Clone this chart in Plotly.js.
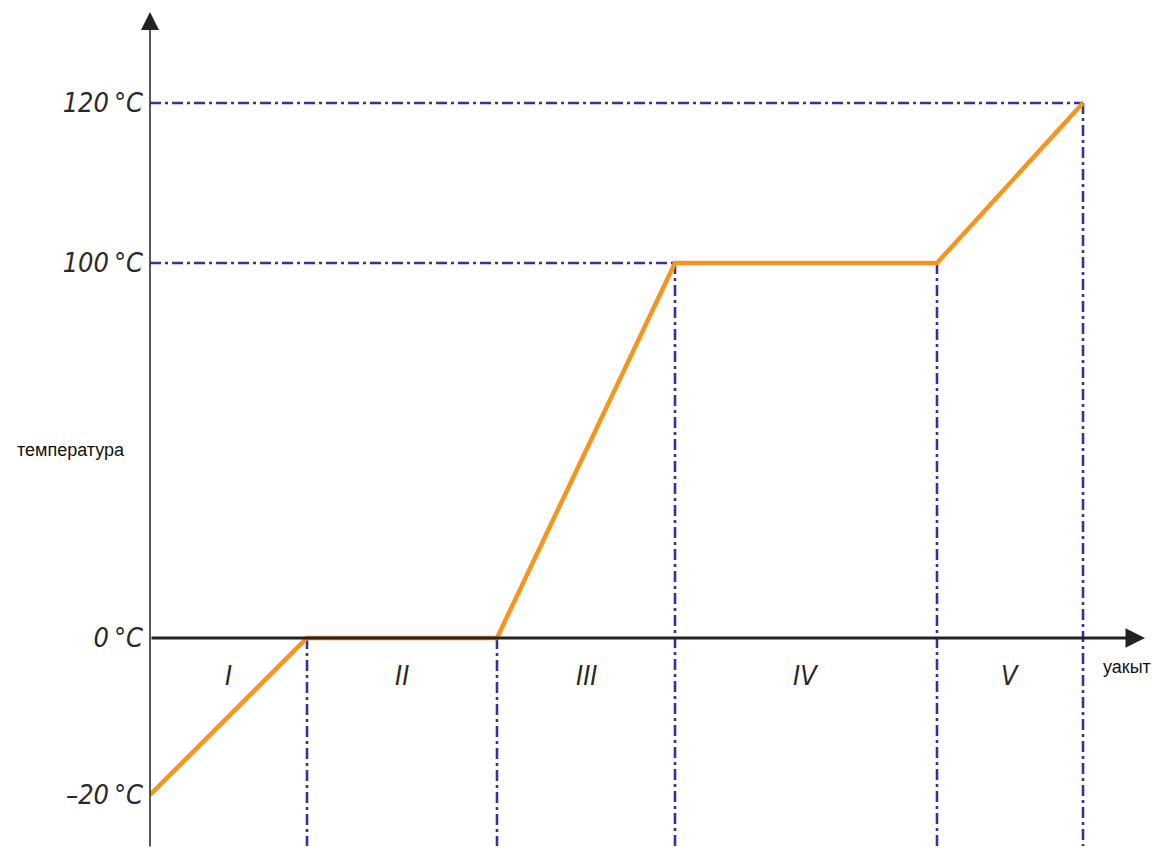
<!DOCTYPE html>
<html>
<head>
<meta charset="utf-8">
<script src="https://cdn.plot.ly/plotly-3.0.1.min.js"></script>
<style>html,body{margin:0;padding:0;background:#fff;}#chart{width:1157px;height:864px;}</style>
</head>
<body>
<div id="chart"></div>
<script>
// ---- data ----
const times = [0, 15.7, 34.7, 52.5, 78.7, 93.3];          // time (arbitrary units)
const temps = [-20, 0, 0, 100, 100, 120];                 // temperature, °C
const tickTemps = [-20, 0, 100, 120];
const tickLabels = ['–20\u2009°C', '0\u2009°C', '100\u2009°C', '120\u2009°C'];
const stageLabels = ['I', 'II', 'III', 'IV', 'V'];
const yLabel = 'температура';
const xLabel = 'уакыт';

// ---- piecewise axis scale (the drawing compresses 0..100 °C) ----
function u(T) {
  if (T <= 0) return T * 7.85;
  if (T <= 100) return T * 3.75;
  return 375 + (T - 100) * 8;
}

const orange = '#F7941E';
const navy = '#343399';
const dashPat = '11px,4px,3px,4px';
const tickFont = {family: '"DejaVu Sans Condensed", "Liberation Sans Narrow", "Liberation Sans", sans-serif',
  size: 27, color: '#2a2a2a', style: 'italic'};
const textFont = {family: '"Liberation Sans", Arial, sans-serif', size: 18, color: '#111'};

const traces = [];
// horizontal guide lines at 100 and 120 °C
[100, 120].forEach(T => {
  const i = temps.indexOf(T);
  traces.push({x: [0, times[i]], y: [u(T), u(T)], mode: 'lines', hoverinfo: 'skip',
    line: {color: navy, width: 2.6, dash: dashPat}});
});
// vertical guide lines at each stage boundary
for (let i = 1; i < times.length; i++) {
  traces.push({x: [times[i], times[i]], y: [u(temps[i]), -208], mode: 'lines', hoverinfo: 'skip',
    line: {color: navy, width: 2.6, dash: dashPat}});
}
// heating curve
traces.push({x: times, y: temps.map(u), mode: 'lines', hoverinfo: 'skip',
  line: {color: orange, width: 4.5}});

const annotations = [];
// y axis arrow
annotations.push({x: 0, y: 626, ax: 0, ay: -210, xref: 'x', yref: 'y', axref: 'x', ayref: 'y',
  text: '', showarrow: true, arrowhead: 2, arrowsize: 2.4, arrowwidth: 1.5, arrowcolor: '#222'});
// x axis arrow
annotations.push({x: 99.5, y: 0, ax: 0, ay: 0, xref: 'x', yref: 'y', axref: 'x', ayref: 'y',
  text: '', showarrow: true, arrowhead: 2, arrowsize: 1.3, arrowwidth: 3, arrowcolor: '#222'});
// stage labels, centred in each stage
for (let i = 0; i < stageLabels.length; i++) {
  annotations.push({x: (times[i] + times[i + 1]) / 2, y: -37, xref: 'x', yref: 'y', text: stageLabels[i],
    showarrow: false, font: tickFont, xanchor: 'center', yanchor: 'middle'});
}
annotations.push({x: (71 - 150) / 1000, y: (864 - 450) / 864, xref: 'paper', yref: 'paper',
  text: yLabel, showarrow: false, xanchor: 'center', yanchor: 'middle', font: textFont});
annotations.push({x: (1127 - 150) / 1000, y: (864 - 667) / 864, xref: 'paper', yref: 'paper',
  text: xLabel, showarrow: false, xanchor: 'center', yanchor: 'middle', font: textFont});

const layout = {
  width: 1157, height: 864,
  margin: {l: 150, r: 7, t: 0, b: 0},
  paper_bgcolor: '#fff', plot_bgcolor: '#fff',
  showlegend: false,
  xaxis: {range: [0, 100], visible: false, fixedrange: true},
  yaxis: {range: [-226, 638], showgrid: false, zeroline: false, showline: false, ticks: '',
    tickvals: tickTemps.map(u), ticktext: tickLabels, tickfont: tickFont, ticklabelstandoff: 6,
    fixedrange: true},
  annotations: annotations
};

Plotly.newPlot('chart', traces, layout, {displayModeBar: false, staticPlot: true});
</script>
</body>
</html>
